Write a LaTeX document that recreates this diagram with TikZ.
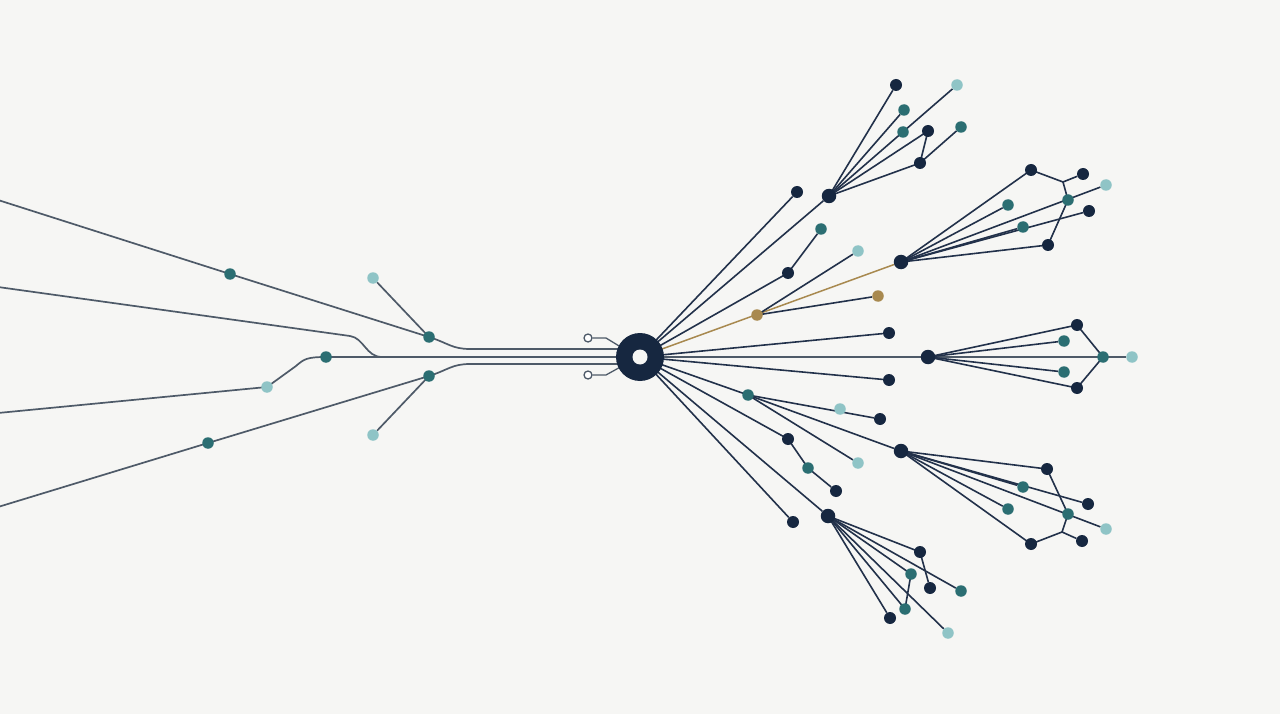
\documentclass[tikz,border=0pt]{standalone}
\usetikzlibrary{calc}
\pgfdeclarelayer{back}
\pgfdeclarelayer{bg}
\pgfsetlayers{back,bg,main}
\definecolor{bgc}{HTML}{F6F6F4}
\definecolor{navy}{HTML}{162740}
\definecolor{tealc}{HTML}{2B6E72}
\definecolor{lightc}{HTML}{8FC4C6}
\definecolor{goldc}{HTML}{A8894F}
\definecolor{lined}{HTML}{22314A}
\definecolor{lineg}{HTML}{4E5A68}
\tikzset{
  dot/.style={circle,inner sep=0pt,draw=none},
  dk/.style={dot,fill=navy,minimum size=12pt},
  ch/.style={dot,fill=navy,minimum size=14.5pt},
  tl/.style={dot,fill=tealc,minimum size=11.5pt},
  lt/.style={dot,fill=lightc,minimum size=11.5pt},
  gd/.style={dot,fill=goldc,minimum size=11.5pt},
  opn/.style={circle,inner sep=0pt,minimum size=8pt,draw=lineg,line width=1.3pt,fill=white},
  wd/.style={draw=lined,line width=1.6pt},
  wg/.style={draw=lineg,line width=1.7pt},
  wgold/.style={draw=goldc,line width=1.5pt},
}
\begin{document}
\begin{tikzpicture}[x=1pt,y=-1pt]
\begin{pgfonlayer}{back}
\fill[bgc] (0,0) rectangle (1280,714);
\end{pgfonlayer}
\useasboundingbox (0,0) rectangle (1280,714);
% hub
\node[dot,fill=navy,minimum size=48pt] (H) at (640,357) {};
\node[dot,fill=bgc,minimum size=15pt] (Hin) at (640,357) {};
% open stubs
\node[opn] (o1) at (588,338) {};
\node[opn] (o2) at (588,375) {};
\coordinate (s1) at (606,338); \coordinate (s1b) at (624,349);
\coordinate (s2) at (606,375); \coordinate (s2b) at (624,365);
% left
\coordinate (la0) at (-2,200);
\node[tl] (la1) at (230,274) {};
\node[tl] (la2) at (429,337) {};
\node[lt] (la3) at (373,278) {};
\coordinate (lb0) at (-2,287);
\coordinate (lb1) at (350,336);
\coordinate (lbm) at (382,357);
\coordinate (lc0) at (-2,413);
\node[lt] (lc1) at (267,387) {};
\node[tl] (lc2) at (326,357) {};
\coordinate (lcm) at (296,366);
\coordinate (ld0) at (-2,507);
\node[tl] (ld1) at (208,443) {};
\node[tl] (ld2) at (429,376) {};
\node[lt] (ld3) at (373,435) {};
\coordinate (ha) at (470,349); \coordinate (hA) at (630,349);
\coordinate (hd) at (470,364); \coordinate (hD) at (630,364);
% right first level
\node[dk] (r1) at (797,192) {};
\node[ch] (C1) at (829,196) {};
\node[dk] (r3a) at (788,273) {};
\node[tl] (r3b) at (821,229) {};
\node[gd] (g1) at (757,315) {};
\node[gd] (g2) at (878,296) {};
\node[lt] (r5) at (858,251) {};
\node[ch] (C2) at (901,262) {};
\node[dk] (r6) at (889,333) {};
\node[ch] (C3) at (928,357) {};
\node[dk] (r8) at (889,380) {};
\node[tl] (r9a) at (748,395) {};
\node[lt] (r9b) at (840,409) {};
\node[dk] (r9c) at (880,419) {};
\node[lt] (r9d) at (858,463) {};
\node[ch] (C4) at (901,451) {};
\node[dk] (r10a) at (788,439) {};
\node[tl] (r10b) at (808,468) {};
\node[dk] (r10c) at (836,491) {};
\node[ch] (C5) at (828,516) {};
\node[dk] (r12) at (793,522) {};
% cluster 1
\node[dk] (a1) at (896,85) {};
\node[tl] (a2) at (904,110) {};
\node[lt] (a3) at (957,85) {};
\node[tl] (a4) at (903,132) {};
\node[dk] (a5) at (928,131) {};
\node[dk] (a6) at (920,163) {};
\node[tl] (a7) at (961,127) {};
% cluster 2
\node[dk] (b1) at (1031,170) {};
\node[dk] (b2) at (1083,174) {};
\node[lt] (b3) at (1106,185) {};
\node[tl] (b4) at (1008,205) {};
\node[tl] (b5) at (1068,200) {};
\node[dk] (b6) at (1089,211) {};
\node[tl] (b7) at (1023,227) {};
\node[dk] (b8) at (1048,245) {};
\coordinate (bj) at (1063,182);
% cluster 3
\node[dk] (c1) at (1077,325) {};
\node[tl] (c2) at (1064,341) {};
\node[tl] (c3) at (1103,357) {};
\node[lt] (c4) at (1132,357) {};
\node[tl] (c5) at (1064,372) {};
\node[dk] (c6) at (1077,388) {};
% cluster 4
\node[dk] (d1) at (1047,469) {};
\node[tl] (d2) at (1023,487) {};
\node[dk] (d3) at (1088,504) {};
\node[tl] (d4) at (1008,509) {};
\node[tl] (d5) at (1068,514) {};
\node[lt] (d6) at (1106,529) {};
\node[dk] (d7) at (1031,544) {};
\node[dk] (d8) at (1082,541) {};
\coordinate (dj) at (1062,532);
% cluster 5
\node[dk] (e1) at (920,552) {};
\node[tl] (e2) at (911,574) {};
\node[dk] (e3) at (930,588) {};
\node[tl] (e4) at (961,591) {};
\node[tl] (e5) at (905,609) {};
\node[dk] (e6) at (890,618) {};
\node[lt] (e7) at (948,633) {};

\begin{pgfonlayer}{bg}
% left lines
\draw[wg] (la0) -- (la1.center) -- (la2.center) .. controls (448,343) and (452,349) .. (ha) -- (hA);
\draw[wg] (la3) -- (la2.center);
\draw[wg] (lb0) -- (lb1) .. controls (364,338) and (366,357) .. (lbm);
\draw[wg] (lc0) -- (lc1.center) -- (lcm) .. controls (304,359) and (307,357) .. (lc2.center) -- (H.center);
\draw[wg] (ld0) -- (ld1.center) -- (ld2.center) .. controls (448,370) and (452,364) .. (hd) -- (hD);
\draw[wg] (ld3) -- (ld2.center);
\draw[wg,line width=1.3pt] (o1) -- (s1) -- (s1b);
\draw[wg,line width=1.3pt] (o2) -- (s2) -- (s2b);
% right first level
\draw[wd] (H.center) -- (r1);
\draw[wd] (H.center) -- (C1);
\draw[wd] (H.center) -- (r3a.center) -- (r3b);
\draw[wgold] (H.center) -- (C2);
\draw[wd] (g1.center) -- (r5);
\draw[wd] (g1.center) -- (g2);
\draw[wd] (H.center) -- (r6);
\draw[wg] (H.center) -- (C3.center) -- (c4);
\draw[wd] (H.center) -- (r8);
\draw[wd] (H.center) -- (r9a.center) -- (C4);
\draw[wd] (r9a.center) -- (r9c);
\draw[wd] (r9a.center) -- (r9d);
\draw[wd] (H.center) -- (r10a.center) -- (r10b.center) -- (r10c);
\draw[wd] (H.center) -- (C5);
\draw[wd] (H.center) -- (r12);
% cluster 1
\draw[wd] (C1.center) -- (a1);
\draw[wd] (C1.center) -- (a2);
\draw[wd] (C1.center) -- (a3);
\draw[wd] (C1.center) -- (a5.center) -- (a6.center);
\draw[wd] (C1.center) -- (a6.center) -- (a7);
% cluster 2
\draw[wd] (C2.center) -- (b1.center) -- (bj) -- (b2);
\draw[wd] (bj) -- (b5.center) -- (b8.center);
\draw[wd] (C2.center) -- (b4);
\draw[wd] (C2.center) -- (b3);
\draw[wd] (C2.center) -- (b7);
\draw[wd] (C2.center) -- (b6);
\draw[wd] (C2.center) -- (b8);
% cluster 3
\draw[wd] (C3.center) -- (c1.center) -- (c3.center) -- (c6.center) -- (C3.center);
\draw[wd] (C3.center) -- (c2);
\draw[wd] (C3.center) -- (c5);
% cluster 4
\draw[wd] (C4.center) -- (d1.center) -- (d5.center) -- (dj) -- (d8);
\draw[wd] (dj) -- (d7.center) -- (C4.center);
\draw[wd] (C4.center) -- (d2);
\draw[wd] (C4.center) -- (d3);
\draw[wd] (C4.center) -- (d4);
\draw[wd] (C4.center) -- (d6);
% cluster 5
\draw[wd] (C5.center) -- (e1.center) -- (e3);
\draw[wd] (C5.center) -- (e2.center) -- (e5.center) -- (C5.center);
\draw[wd] (C5.center) -- (e4);
\draw[wd] (C5.center) -- (e6);
\draw[wd] (C5.center) -- (e7);
\end{pgfonlayer}
\end{tikzpicture}
\end{document}
